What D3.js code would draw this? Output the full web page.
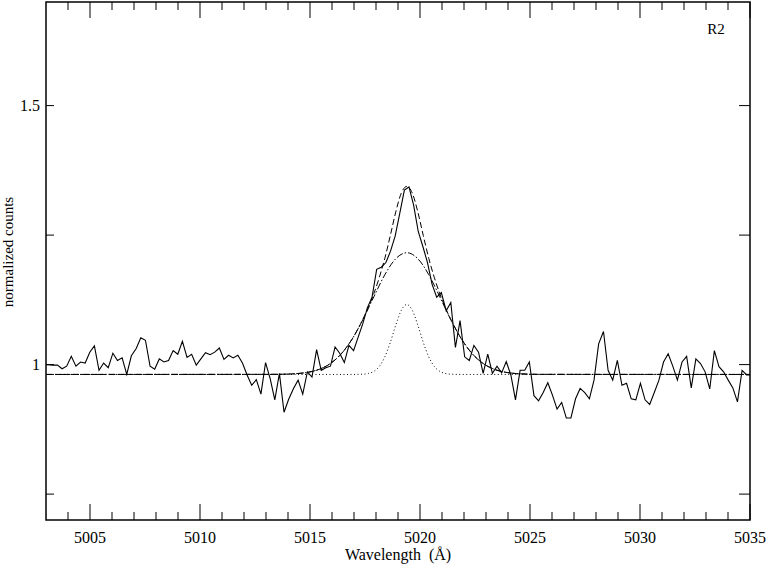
<!DOCTYPE html>
<html><head><meta charset="utf-8">
<script src="https://cdn.jsdelivr.net/npm/d3@7"></script>
<style>
body{margin:0;background:#fff;}
svg{display:block;}
text{font-family:"Liberation Serif","Times New Roman",serif;fill:#000;}
</style></head>
<body><svg id="c" width="768" height="567"></svg>
<script>
// ---- data ----
const wavelength = [5002.89,5003.10,5003.31,
5003.52,5003.73,5003.94,5004.15,5004.36,5004.57,5004.78,5004.99,5005.20,5005.41,
5005.62,5005.83,5006.04,5006.25,5006.46,5006.67,5006.88,5007.10,5007.31,5007.52,
5007.73,5007.94,5008.15,5008.36,5008.57,5008.78,5008.99,5009.20,5009.41,5009.62,
5009.83,5010.04,5010.25,5010.46,5010.67,5010.88,5011.09,5011.30,5011.51,5011.72,
5011.93,5012.14,5012.35,5012.56,5012.77,5012.98,5013.19,5013.40,5013.61,5013.82,
5014.03,5014.25,5014.46,5014.67,5014.88,5015.09,5015.30,5015.51,5015.72,5015.93,
5016.14,5016.35,5016.56,5016.77,5016.98,5017.19,5017.40,5017.61,5017.82,5018.03,
5018.24,5018.45,5018.66,5018.87,5019.08,5019.29,5019.50,5019.71,5019.92,5020.13,
5020.34,5020.55,5020.76,5020.97,5021.19,5021.40,5021.61,5021.82,5022.03,5022.24,
5022.45,5022.66,5022.87,5023.08,5023.29,5023.50,5023.71,5023.92,5024.13,5024.34,
5024.55,5024.76,5024.97,5025.18,5025.39,5025.60,5025.81,5026.02,5026.23,5026.44,
5026.65,5026.86,5027.07,5027.28,5027.49,5027.70,5027.91,5028.12,5028.34,5028.55,
5028.76,5028.97,5029.18,5029.39,5029.60,5029.81,5030.02,5030.23,5030.44,5030.65,
5030.86,5031.07,5031.28,5031.49,5031.70,5031.91,5032.12,5032.33,5032.54,5032.75,
5032.96,5033.17,5033.38,5033.59,5033.80,5034.01,5034.22,5034.43,5034.64,5034.85,5035.06];
const counts = [1.000,1.000,0.999,
0.999,0.992,0.997,1.016,0.997,1.005,1.003,1.024,1.036,0.989,
1.003,0.994,1.022,1.008,1.013,0.981,1.017,1.031,1.052,1.047,
0.997,0.991,1.011,1.005,1.008,1.027,1.020,1.045,1.014,1.020,
0.999,1.011,1.023,1.019,1.024,1.032,1.010,1.018,1.013,1.018,
1.003,0.980,0.960,0.971,0.943,1.004,0.973,0.932,0.983,0.908,
0.933,0.954,0.970,0.943,0.986,0.976,1.029,0.989,0.994,0.997,
1.034,1.022,1.004,1.037,1.027,1.053,1.079,1.110,1.130,1.184,
1.188,1.197,1.219,1.248,1.292,1.337,1.343,1.308,1.257,1.228,
1.197,1.155,1.130,1.139,1.104,1.120,1.033,1.085,1.015,1.008,
1.037,1.024,0.983,1.020,0.983,0.997,0.984,1.006,0.980,0.932,
0.989,0.989,1.005,0.940,0.930,0.946,0.965,0.941,0.914,0.927,
0.897,0.897,0.934,0.954,0.946,0.934,0.970,1.040,1.064,0.989,
0.970,1.008,0.960,0.964,0.934,0.932,0.964,0.932,0.923,0.946,
0.970,1.005,1.021,0.997,0.970,1.005,1.016,0.955,1.011,1.002,
0.986,0.953,1.027,0.996,0.986,0.970,0.955,0.928,0.989,0.980,0.980];

// narrow component (dotted)
const narrowX = [5003.0,5016.90,5017.40,5017.65,5017.90,5018.15,5018.40,5018.65,5018.90,5019.15,5019.40,
                 5019.65,5019.90,5020.15,5020.40,5020.65,5020.90,5021.15,5021.40,5021.90,5035.0];
const narrowY = [0.981,0.981,0.9815,0.9829,0.9869,0.9964,1.0147,1.0428,1.0764,1.1048,1.116,
                 1.1048,1.0764,1.0428,1.0147,0.9964,0.9869,0.9829,0.9815,0.981,0.981];
// broad component (dash-dot)
const broadX = [5003.0,5013.4,5013.9,5014.4,5014.9,5015.4,5015.9,5016.4,5016.9,5017.4,5017.9,5018.4,5018.9,5019.4,
                5019.9,5020.4,5020.9,5021.4,5021.9,5022.4,5022.9,5023.4,5023.9,5024.4,5024.9,5025.4,5035.0];
const broadY = [0.981,0.9812,0.9816,0.9826,0.9851,0.9906,1.0013,1.0198,1.0483,1.0866,1.1308,1.1734,1.2045,1.216,
                1.2045,1.1734,1.1308,1.0866,1.0483,1.0198,1.0013,0.9906,0.9851,0.9826,0.9816,0.9812,0.981];
// total fit (dashed)
const totalX = [5003.0,5013.4,5013.9,5014.4,5014.9,5015.4,5015.9,5016.4,5016.9,5017.15,5017.4,5017.65,5017.9,5018.15,
                5018.4,5018.65,5018.9,5019.15,5019.4,5019.65,5019.9,5020.15,5020.4,5020.65,5020.9,5021.15,5021.4,
                5021.65,5021.9,5022.4,5022.9,5023.4,5023.9,5024.4,5024.9,5025.4,5035.0];
const totalY = [0.981,0.9812,0.9816,0.9826,0.9851,0.9906,1.0013,1.0198,1.0483,1.0664,1.0871,1.1103,1.1367,1.1683,
                1.205,1.249,1.295,1.331,1.344,1.331,1.295,1.249,1.205,1.1683,1.1367,1.1103,1.0871,
                1.0664,1.0483,1.0198,1.0013,0.9906,0.9851,0.9826,0.9816,0.9812,0.981];

const xMajorTicks = [5005,5010,5015,5020,5025,5030,5035];
const xMinorTicks = [5004,5006,5007,5008,5009,5011,5012,5013,5014,5016,5017,5018,5019,5021,5022,5023,5024,5026,5027,5028,5029,5031,5032,5033,5034];
const yTicks = [0.75,1,1.25,1.5];
const yTickLabels = [{v:1,t:"1"},{v:1.5,t:"1.5"}];
const xTitle = "Wavelength  (Å)";
const yTitle = "normalized counts";
const panelLabel = "R2";

// ---- layout ----
const L=46, R=750, T=2, B=520;
const x = d3.scaleLinear().domain([5003,5035]).range([L,R]);
const y = d3.scaleLinear().domain([0.7,1.7]).range([B,T]);
const svg = d3.select("#c");

svg.append("defs").append("clipPath").attr("id","clip")
  .append("rect").attr("x",L).attr("y",T).attr("width",R-L).attr("height",B-T);
const g = svg.append("g").attr("clip-path","url(#clip)");

const line = d3.line().x(d=>x(d[0])).y(d=>y(d[1]));
const smooth = d3.line().x(d=>x(d[0])).y(d=>y(d[1])).curve(d3.curveMonotoneX);

g.append("path").datum(narrowX.map((v,i)=>[v,narrowY[i]])).attr("d",smooth)
  .attr("fill","none").attr("stroke","#000").attr("stroke-width",1).attr("stroke-dasharray","1,2.5");
g.append("path").datum(broadX.map((v,i)=>[v,broadY[i]])).attr("d",smooth)
  .attr("fill","none").attr("stroke","#000").attr("stroke-width",1).attr("stroke-dasharray","7,2,1.5,2");
g.append("path").datum(totalX.map((v,i)=>[v,totalY[i]])).attr("d",smooth)
  .attr("fill","none").attr("stroke","#000").attr("stroke-width",1).attr("stroke-dasharray","6,3");
g.append("path").datum(wavelength.map((v,i)=>[v,counts[i]])).attr("d",line)
  .attr("fill","none").attr("stroke","#000").attr("stroke-width",1.1).attr("stroke-linejoin","miter");

// frame
svg.append("rect").attr("x",L).attr("y",T).attr("width",R-L).attr("height",B-T)
  .attr("fill","none").attr("stroke","#000").attr("stroke-width",1.5);

// x ticks (bottom & top, inward)
const tk = svg.append("g").attr("stroke","#000").attr("stroke-width",1);
xMajorTicks.forEach(v=>{
  tk.append("line").attr("x1",x(v)).attr("x2",x(v)).attr("y1",B).attr("y2",B-16);
  tk.append("line").attr("x1",x(v)).attr("x2",x(v)).attr("y1",T).attr("y2",T+16);
});
xMinorTicks.forEach(v=>{
  tk.append("line").attr("x1",x(v)).attr("x2",x(v)).attr("y1",B).attr("y2",B-8);
  tk.append("line").attr("x1",x(v)).attr("x2",x(v)).attr("y1",T).attr("y2",T+8);
});
yTicks.forEach(v=>{
  tk.append("line").attr("x1",L).attr("x2",L+8).attr("y1",y(v)).attr("y2",y(v));
  tk.append("line").attr("x1",R).attr("x2",R-11).attr("y1",y(v)).attr("y2",y(v));
});

// labels
svg.selectAll(".xl").data(xMajorTicks).enter().append("text")
  .attr("x",d=>x(d)).attr("y",543).attr("text-anchor","middle").attr("font-size",16).text(d=>d);
svg.selectAll(".yl").data(yTickLabels).enter().append("text")
  .attr("x",40).attr("y",d=>y(d.v)+5).attr("text-anchor","end").attr("font-size",16).text(d=>d.t);
svg.append("text").attr("x",398).attr("y",560).attr("text-anchor","middle").attr("font-size",16)
  .attr("xml:space","preserve").style("white-space","pre").text(xTitle);
svg.append("text").attr("transform","translate(13,252) rotate(-90)").attr("text-anchor","middle")
  .attr("font-size",15).text(yTitle);
svg.append("text").attr("x",716).attr("y",34).attr("text-anchor","middle").attr("font-size",15).text(panelLabel);
</script></body></html>
